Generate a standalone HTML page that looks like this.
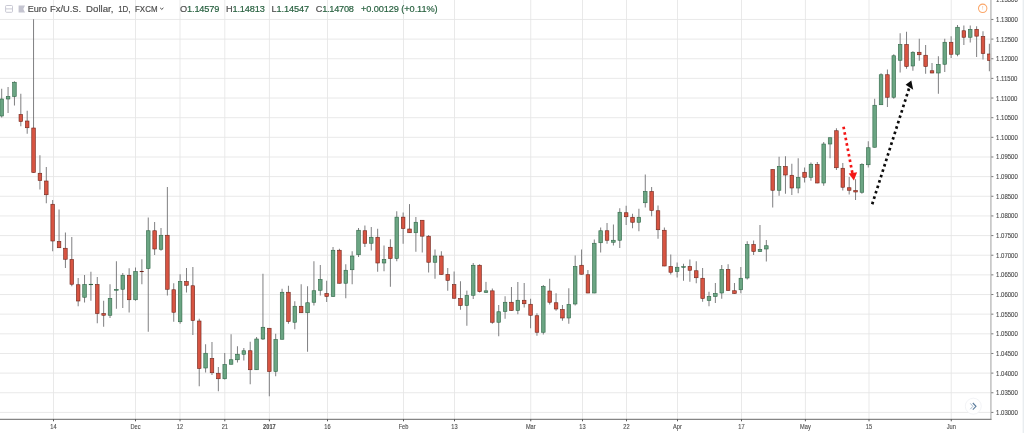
<!DOCTYPE html><html><head><meta charset="utf-8"><title>EURUSD</title><style>
html,body{margin:0;padding:0;background:#fff;}body{width:1024px;height:433px;overflow:hidden;position:relative;font-family:"Liberation Sans",sans-serif;}
svg{position:absolute;left:0;top:0;display:block}
text{font-family:"Liberation Sans",sans-serif;}
.ax{font-size:6.5px;fill:#4c4c4c;stroke:#4c4c4c;stroke-width:0.12px}
.tt{font-size:9.2px;fill:#4d4d4d;stroke:#4d4d4d;stroke-width:0.18px}
.gv{fill:#27603f;stroke:#27603f}
</style></head><body>
<svg width="1024" height="433" viewBox="0 0 1024 433">
<rect width="1024" height="433" fill="#fff"/>
<rect x="1022.6" y="0" width="1.4" height="433" fill="#e9edf0"/>
<g stroke="#e5e5e5" stroke-width="0.85">
<line x1="0" y1="19.45" x2="990.9" y2="19.45"/>
<line x1="0" y1="39.10" x2="990.9" y2="39.10"/>
<line x1="0" y1="58.75" x2="990.9" y2="58.75"/>
<line x1="0" y1="78.39" x2="990.9" y2="78.39"/>
<line x1="0" y1="98.04" x2="990.9" y2="98.04"/>
<line x1="0" y1="117.69" x2="990.9" y2="117.69"/>
<line x1="0" y1="137.34" x2="990.9" y2="137.34"/>
<line x1="0" y1="156.99" x2="990.9" y2="156.99"/>
<line x1="0" y1="176.63" x2="990.9" y2="176.63"/>
<line x1="0" y1="196.28" x2="990.9" y2="196.28"/>
<line x1="0" y1="215.93" x2="990.9" y2="215.93"/>
<line x1="0" y1="235.58" x2="990.9" y2="235.58"/>
<line x1="0" y1="255.23" x2="990.9" y2="255.23"/>
<line x1="0" y1="274.87" x2="990.9" y2="274.87"/>
<line x1="0" y1="294.52" x2="990.9" y2="294.52"/>
<line x1="0" y1="314.17" x2="990.9" y2="314.17"/>
<line x1="0" y1="333.82" x2="990.9" y2="333.82"/>
<line x1="0" y1="353.47" x2="990.9" y2="353.47"/>
<line x1="0" y1="373.11" x2="990.9" y2="373.11"/>
<line x1="0" y1="392.76" x2="990.9" y2="392.76"/>
<line x1="0" y1="412.41" x2="990.9" y2="412.41"/>
<line x1="53.5" y1="0" x2="53.5" y2="419.3"/>
<line x1="135.5" y1="0" x2="135.5" y2="419.3"/>
<line x1="180" y1="0" x2="180" y2="419.3"/>
<line x1="224.8" y1="0" x2="224.8" y2="419.3"/>
<line x1="269.4" y1="0" x2="269.4" y2="419.3"/>
<line x1="327.5" y1="0" x2="327.5" y2="419.3"/>
<line x1="403.5" y1="0" x2="403.5" y2="419.3"/>
<line x1="454.5" y1="0" x2="454.5" y2="419.3"/>
<line x1="530.75" y1="0" x2="530.75" y2="419.3"/>
<line x1="582.5" y1="0" x2="582.5" y2="419.3"/>
<line x1="626.5" y1="0" x2="626.5" y2="419.3"/>
<line x1="677.5" y1="0" x2="677.5" y2="419.3"/>
<line x1="741.5" y1="0" x2="741.5" y2="419.3"/>
<line x1="805.4" y1="0" x2="805.4" y2="419.3"/>
<line x1="869" y1="0" x2="869" y2="419.3"/>
<line x1="951.25" y1="0" x2="951.25" y2="419.3"/>
</g>
<clipPath id="cp"><rect x="0" y="0" width="990.6" height="419.3"/></clipPath>
<g clip-path="url(#cp)">
<line x1="1.70" y1="88.75" x2="1.70" y2="117.5" stroke="#707073" stroke-width="0.9"/>
<line x1="8.07" y1="87.0" x2="8.07" y2="113.0" stroke="#707073" stroke-width="0.9"/>
<line x1="14.44" y1="81.25" x2="14.44" y2="105.5" stroke="#707073" stroke-width="0.9"/>
<line x1="20.82" y1="93.75" x2="20.82" y2="126.25" stroke="#707073" stroke-width="0.9"/>
<line x1="27.19" y1="110.75" x2="27.19" y2="133.75" stroke="#707073" stroke-width="0.9"/>
<line x1="33.56" y1="19.25" x2="33.56" y2="172.75" stroke="#707073" stroke-width="0.9"/>
<line x1="39.93" y1="155.25" x2="39.93" y2="189.5" stroke="#707073" stroke-width="0.9"/>
<line x1="46.30" y1="167.0" x2="46.30" y2="203.25" stroke="#707073" stroke-width="0.9"/>
<line x1="52.68" y1="200.0" x2="52.68" y2="251.25" stroke="#707073" stroke-width="0.9"/>
<line x1="59.05" y1="209.5" x2="59.05" y2="248.0" stroke="#707073" stroke-width="0.9"/>
<line x1="65.42" y1="232.5" x2="65.42" y2="268.0" stroke="#707073" stroke-width="0.9"/>
<line x1="71.79" y1="237.0" x2="71.79" y2="286.25" stroke="#707073" stroke-width="0.9"/>
<line x1="78.16" y1="278.0" x2="78.16" y2="306.25" stroke="#707073" stroke-width="0.9"/>
<line x1="84.54" y1="275.0" x2="84.54" y2="302.5" stroke="#707073" stroke-width="0.9"/>
<line x1="90.91" y1="271.75" x2="90.91" y2="300.75" stroke="#707073" stroke-width="0.9"/>
<line x1="97.28" y1="277.0" x2="97.28" y2="323.25" stroke="#707073" stroke-width="0.9"/>
<line x1="103.65" y1="300.75" x2="103.65" y2="326.75" stroke="#707073" stroke-width="0.9"/>
<line x1="110.02" y1="284.25" x2="110.02" y2="318.0" stroke="#707073" stroke-width="0.9"/>
<line x1="116.40" y1="261.25" x2="116.40" y2="308.75" stroke="#707073" stroke-width="0.9"/>
<line x1="122.77" y1="273.0" x2="122.77" y2="308.0" stroke="#707073" stroke-width="0.9"/>
<line x1="129.14" y1="268.25" x2="129.14" y2="312.5" stroke="#707073" stroke-width="0.9"/>
<line x1="135.51" y1="267.5" x2="135.51" y2="300.75" stroke="#707073" stroke-width="0.9"/>
<line x1="141.88" y1="259.25" x2="141.88" y2="284.25" stroke="#707073" stroke-width="0.9"/>
<line x1="148.26" y1="217.5" x2="148.26" y2="331.75" stroke="#707073" stroke-width="0.9"/>
<line x1="154.63" y1="222.0" x2="154.63" y2="255.0" stroke="#707073" stroke-width="0.9"/>
<line x1="161.00" y1="228.0" x2="161.00" y2="250.75" stroke="#707073" stroke-width="0.9"/>
<line x1="167.37" y1="187.0" x2="167.37" y2="295.5" stroke="#707073" stroke-width="0.9"/>
<line x1="173.74" y1="283.25" x2="173.74" y2="321.75" stroke="#707073" stroke-width="0.9"/>
<line x1="180.12" y1="274.25" x2="180.12" y2="323.75" stroke="#707073" stroke-width="0.9"/>
<line x1="186.49" y1="268.0" x2="186.49" y2="292.5" stroke="#707073" stroke-width="0.9"/>
<line x1="192.86" y1="267.0" x2="192.86" y2="335.0" stroke="#707073" stroke-width="0.9"/>
<line x1="199.23" y1="318.75" x2="199.23" y2="386.25" stroke="#707073" stroke-width="0.9"/>
<line x1="205.60" y1="344.25" x2="205.60" y2="372.5" stroke="#707073" stroke-width="0.9"/>
<line x1="211.98" y1="342.0" x2="211.98" y2="375.0" stroke="#707073" stroke-width="0.9"/>
<line x1="218.35" y1="367.0" x2="218.35" y2="391.25" stroke="#707073" stroke-width="0.9"/>
<line x1="224.72" y1="353.0" x2="224.72" y2="379.5" stroke="#707073" stroke-width="0.9"/>
<line x1="231.09" y1="334.25" x2="231.09" y2="364.5" stroke="#707073" stroke-width="0.9"/>
<line x1="237.46" y1="346.25" x2="237.46" y2="362.5" stroke="#707073" stroke-width="0.9"/>
<line x1="243.84" y1="348.0" x2="243.84" y2="360.5" stroke="#707073" stroke-width="0.9"/>
<line x1="250.21" y1="341.75" x2="250.21" y2="384.25" stroke="#707073" stroke-width="0.9"/>
<line x1="256.58" y1="337.0" x2="256.58" y2="370.0" stroke="#707073" stroke-width="0.9"/>
<line x1="262.95" y1="273.75" x2="262.95" y2="340.0" stroke="#707073" stroke-width="0.9"/>
<line x1="269.32" y1="328.0" x2="269.32" y2="396.25" stroke="#707073" stroke-width="0.9"/>
<line x1="275.70" y1="333.75" x2="275.70" y2="376.25" stroke="#707073" stroke-width="0.9"/>
<line x1="282.07" y1="288.75" x2="282.07" y2="339.5" stroke="#707073" stroke-width="0.9"/>
<line x1="288.44" y1="285.75" x2="288.44" y2="323.75" stroke="#707073" stroke-width="0.9"/>
<line x1="294.81" y1="301.25" x2="294.81" y2="329.25" stroke="#707073" stroke-width="0.9"/>
<line x1="301.18" y1="284.25" x2="301.18" y2="313.0" stroke="#707073" stroke-width="0.9"/>
<line x1="307.56" y1="286.25" x2="307.56" y2="351.75" stroke="#707073" stroke-width="0.9"/>
<line x1="313.93" y1="261.25" x2="313.93" y2="305.5" stroke="#707073" stroke-width="0.9"/>
<line x1="320.30" y1="265.0" x2="320.30" y2="295.5" stroke="#707073" stroke-width="0.9"/>
<line x1="326.67" y1="280.75" x2="326.67" y2="302.0" stroke="#707073" stroke-width="0.9"/>
<line x1="333.04" y1="247.0" x2="333.04" y2="296.75" stroke="#707073" stroke-width="0.9"/>
<line x1="339.42" y1="248.75" x2="339.42" y2="283.5" stroke="#707073" stroke-width="0.9"/>
<line x1="345.79" y1="264.25" x2="345.79" y2="298.25" stroke="#707073" stroke-width="0.9"/>
<line x1="352.16" y1="251.25" x2="352.16" y2="284.25" stroke="#707073" stroke-width="0.9"/>
<line x1="358.53" y1="228.0" x2="358.53" y2="257.0" stroke="#707073" stroke-width="0.9"/>
<line x1="364.90" y1="225.5" x2="364.90" y2="247.0" stroke="#707073" stroke-width="0.9"/>
<line x1="371.28" y1="227.0" x2="371.28" y2="250.5" stroke="#707073" stroke-width="0.9"/>
<line x1="377.65" y1="228.75" x2="377.65" y2="271.75" stroke="#707073" stroke-width="0.9"/>
<line x1="384.02" y1="245.5" x2="384.02" y2="271.25" stroke="#707073" stroke-width="0.9"/>
<line x1="390.39" y1="239.25" x2="390.39" y2="286.75" stroke="#707073" stroke-width="0.9"/>
<line x1="396.76" y1="211.25" x2="396.76" y2="261.25" stroke="#707073" stroke-width="0.9"/>
<line x1="403.14" y1="212.5" x2="403.14" y2="243.75" stroke="#707073" stroke-width="0.9"/>
<line x1="409.51" y1="204.1" x2="409.51" y2="233.0" stroke="#707073" stroke-width="0.9"/>
<line x1="415.88" y1="217.0" x2="415.88" y2="251.75" stroke="#707073" stroke-width="0.9"/>
<line x1="422.25" y1="220.0" x2="422.25" y2="252.5" stroke="#707073" stroke-width="0.9"/>
<line x1="428.62" y1="235.0" x2="428.62" y2="272.5" stroke="#707073" stroke-width="0.9"/>
<line x1="435.00" y1="249.5" x2="435.00" y2="278.75" stroke="#707073" stroke-width="0.9"/>
<line x1="441.37" y1="251.25" x2="441.37" y2="274.75" stroke="#707073" stroke-width="0.9"/>
<line x1="447.74" y1="268.0" x2="447.74" y2="290.75" stroke="#707073" stroke-width="0.9"/>
<line x1="454.11" y1="271.5" x2="454.11" y2="298.5" stroke="#707073" stroke-width="0.9"/>
<line x1="460.48" y1="281.25" x2="460.48" y2="309.75" stroke="#707073" stroke-width="0.9"/>
<line x1="466.86" y1="290.6" x2="466.86" y2="325.75" stroke="#707073" stroke-width="0.9"/>
<line x1="473.23" y1="263.0" x2="473.23" y2="299.0" stroke="#707073" stroke-width="0.9"/>
<line x1="479.60" y1="264.25" x2="479.60" y2="292.5" stroke="#707073" stroke-width="0.9"/>
<line x1="485.97" y1="281.9" x2="485.97" y2="293.0" stroke="#707073" stroke-width="0.9"/>
<line x1="492.34" y1="288.5" x2="492.34" y2="323.75" stroke="#707073" stroke-width="0.9"/>
<line x1="498.72" y1="305.0" x2="498.72" y2="336.25" stroke="#707073" stroke-width="0.9"/>
<line x1="505.09" y1="296.25" x2="505.09" y2="318.75" stroke="#707073" stroke-width="0.9"/>
<line x1="511.46" y1="287.0" x2="511.46" y2="310.75" stroke="#707073" stroke-width="0.9"/>
<line x1="517.83" y1="282.0" x2="517.83" y2="314.25" stroke="#707073" stroke-width="0.9"/>
<line x1="524.20" y1="283.0" x2="524.20" y2="307.5" stroke="#707073" stroke-width="0.9"/>
<line x1="530.58" y1="298.75" x2="530.58" y2="328.25" stroke="#707073" stroke-width="0.9"/>
<line x1="536.95" y1="313.25" x2="536.95" y2="335.75" stroke="#707073" stroke-width="0.9"/>
<line x1="543.32" y1="285.0" x2="543.32" y2="334.5" stroke="#707073" stroke-width="0.9"/>
<line x1="549.69" y1="278.75" x2="549.69" y2="304.5" stroke="#707073" stroke-width="0.9"/>
<line x1="556.06" y1="293.25" x2="556.06" y2="310.75" stroke="#707073" stroke-width="0.9"/>
<line x1="562.44" y1="305.0" x2="562.44" y2="320.75" stroke="#707073" stroke-width="0.9"/>
<line x1="568.81" y1="288.25" x2="568.81" y2="323.75" stroke="#707073" stroke-width="0.9"/>
<line x1="575.18" y1="255.5" x2="575.18" y2="305.5" stroke="#707073" stroke-width="0.9"/>
<line x1="581.55" y1="249.5" x2="581.55" y2="274.5" stroke="#707073" stroke-width="0.9"/>
<line x1="587.92" y1="270.0" x2="587.92" y2="293.25" stroke="#707073" stroke-width="0.9"/>
<line x1="594.30" y1="239.5" x2="594.30" y2="293.25" stroke="#707073" stroke-width="0.9"/>
<line x1="600.67" y1="227.5" x2="600.67" y2="252.5" stroke="#707073" stroke-width="0.9"/>
<line x1="607.04" y1="223.0" x2="607.04" y2="243.75" stroke="#707073" stroke-width="0.9"/>
<line x1="613.41" y1="224.5" x2="613.41" y2="245.5" stroke="#707073" stroke-width="0.9"/>
<line x1="619.78" y1="208.25" x2="619.78" y2="248.0" stroke="#707073" stroke-width="0.9"/>
<line x1="626.16" y1="205.75" x2="626.16" y2="225.0" stroke="#707073" stroke-width="0.9"/>
<line x1="632.53" y1="213.75" x2="632.53" y2="228.25" stroke="#707073" stroke-width="0.9"/>
<line x1="638.90" y1="208.75" x2="638.90" y2="231.25" stroke="#707073" stroke-width="0.9"/>
<line x1="645.27" y1="174.5" x2="645.27" y2="207.5" stroke="#707073" stroke-width="0.9"/>
<line x1="651.64" y1="187.0" x2="651.64" y2="216.25" stroke="#707073" stroke-width="0.9"/>
<line x1="658.02" y1="205.5" x2="658.02" y2="238.75" stroke="#707073" stroke-width="0.9"/>
<line x1="664.39" y1="227.5" x2="664.39" y2="266.25" stroke="#707073" stroke-width="0.9"/>
<line x1="670.76" y1="254.5" x2="670.76" y2="274.5" stroke="#707073" stroke-width="0.9"/>
<line x1="677.13" y1="262.5" x2="677.13" y2="277.5" stroke="#707073" stroke-width="0.9"/>
<line x1="683.50" y1="263.75" x2="683.50" y2="280.75" stroke="#707073" stroke-width="0.9"/>
<line x1="689.88" y1="259.5" x2="689.88" y2="281.75" stroke="#707073" stroke-width="0.9"/>
<line x1="696.25" y1="261.25" x2="696.25" y2="283.25" stroke="#707073" stroke-width="0.9"/>
<line x1="702.62" y1="268.0" x2="702.62" y2="301.75" stroke="#707073" stroke-width="0.9"/>
<line x1="708.99" y1="291.75" x2="708.99" y2="306.25" stroke="#707073" stroke-width="0.9"/>
<line x1="715.36" y1="283.0" x2="715.36" y2="303.0" stroke="#707073" stroke-width="0.9"/>
<line x1="721.74" y1="265.0" x2="721.74" y2="298.75" stroke="#707073" stroke-width="0.9"/>
<line x1="728.11" y1="264.25" x2="728.11" y2="290.75" stroke="#707073" stroke-width="0.9"/>
<line x1="734.48" y1="283.0" x2="734.48" y2="293.75" stroke="#707073" stroke-width="0.9"/>
<line x1="740.85" y1="267.0" x2="740.85" y2="293.25" stroke="#707073" stroke-width="0.9"/>
<line x1="747.22" y1="241.25" x2="747.22" y2="279.5" stroke="#707073" stroke-width="0.9"/>
<line x1="753.60" y1="240.5" x2="753.60" y2="255.0" stroke="#707073" stroke-width="0.9"/>
<line x1="759.97" y1="225.0" x2="759.97" y2="251.8" stroke="#707073" stroke-width="0.9"/>
<line x1="766.34" y1="240.0" x2="766.34" y2="261.5" stroke="#707073" stroke-width="0.9"/>
<line x1="772.71" y1="169.25" x2="772.71" y2="207.5" stroke="#707073" stroke-width="0.9"/>
<line x1="779.08" y1="156.75" x2="779.08" y2="195.75" stroke="#707073" stroke-width="0.9"/>
<line x1="785.46" y1="156.25" x2="785.46" y2="193.75" stroke="#707073" stroke-width="0.9"/>
<line x1="791.83" y1="163.75" x2="791.83" y2="195.0" stroke="#707073" stroke-width="0.9"/>
<line x1="798.20" y1="158.25" x2="798.20" y2="193.25" stroke="#707073" stroke-width="0.9"/>
<line x1="804.57" y1="167.5" x2="804.57" y2="182.5" stroke="#707073" stroke-width="0.9"/>
<line x1="810.94" y1="162.5" x2="810.94" y2="180.75" stroke="#707073" stroke-width="0.9"/>
<line x1="817.32" y1="162.0" x2="817.32" y2="183.25" stroke="#707073" stroke-width="0.9"/>
<line x1="823.69" y1="142.0" x2="823.69" y2="185.75" stroke="#707073" stroke-width="0.9"/>
<line x1="830.06" y1="137.5" x2="830.06" y2="158.25" stroke="#707073" stroke-width="0.9"/>
<line x1="836.43" y1="128.25" x2="836.43" y2="170.0" stroke="#707073" stroke-width="0.9"/>
<line x1="842.80" y1="163.0" x2="842.80" y2="190.5" stroke="#707073" stroke-width="0.9"/>
<line x1="849.18" y1="177.0" x2="849.18" y2="194.5" stroke="#707073" stroke-width="0.9"/>
<line x1="855.55" y1="179.25" x2="855.55" y2="200.0" stroke="#707073" stroke-width="0.9"/>
<line x1="861.92" y1="163.25" x2="861.92" y2="193.75" stroke="#707073" stroke-width="0.9"/>
<line x1="868.29" y1="141.25" x2="868.29" y2="167.5" stroke="#707073" stroke-width="0.9"/>
<line x1="874.66" y1="98.75" x2="874.66" y2="147.5" stroke="#707073" stroke-width="0.9"/>
<line x1="881.04" y1="73.25" x2="881.04" y2="105.0" stroke="#707073" stroke-width="0.9"/>
<line x1="887.41" y1="69.5" x2="887.41" y2="107.0" stroke="#707073" stroke-width="0.9"/>
<line x1="893.78" y1="54.25" x2="893.78" y2="98.75" stroke="#707073" stroke-width="0.9"/>
<line x1="900.15" y1="33.25" x2="900.15" y2="72.5" stroke="#707073" stroke-width="0.9"/>
<line x1="906.52" y1="31.75" x2="906.52" y2="68.75" stroke="#707073" stroke-width="0.9"/>
<line x1="912.90" y1="51.25" x2="912.90" y2="70.75" stroke="#707073" stroke-width="0.9"/>
<line x1="919.27" y1="38.75" x2="919.27" y2="60.75" stroke="#707073" stroke-width="0.9"/>
<line x1="925.64" y1="45.0" x2="925.64" y2="73.75" stroke="#707073" stroke-width="0.9"/>
<line x1="932.01" y1="63.0" x2="932.01" y2="73.25" stroke="#707073" stroke-width="0.9"/>
<line x1="938.38" y1="56.25" x2="938.38" y2="93.75" stroke="#707073" stroke-width="0.9"/>
<line x1="944.76" y1="38.75" x2="944.76" y2="72.0" stroke="#707073" stroke-width="0.9"/>
<line x1="951.13" y1="36.25" x2="951.13" y2="58.0" stroke="#707073" stroke-width="0.9"/>
<line x1="957.50" y1="25.0" x2="957.50" y2="56.25" stroke="#707073" stroke-width="0.9"/>
<line x1="963.87" y1="25.5" x2="963.87" y2="45.0" stroke="#707073" stroke-width="0.9"/>
<line x1="970.24" y1="25.5" x2="970.24" y2="42.5" stroke="#707073" stroke-width="0.9"/>
<line x1="976.62" y1="26.25" x2="976.62" y2="57.0" stroke="#707073" stroke-width="0.9"/>
<line x1="982.99" y1="31.25" x2="982.99" y2="59.5" stroke="#707073" stroke-width="0.9"/>
<line x1="989.36" y1="43.75" x2="989.36" y2="71.25" stroke="#707073" stroke-width="0.9"/>
<rect x="-0.10" y="99.0" width="3.6" height="17.00" fill="#6ba583" stroke="#2f6646" stroke-width="0.6"/>
<rect x="6.27" y="96.5" width="3.6" height="2.50" fill="#6ba583" stroke="#2f6646" stroke-width="0.6"/>
<rect x="12.64" y="82.25" width="3.6" height="14.25" fill="#6ba583" stroke="#2f6646" stroke-width="0.6"/>
<rect x="19.02" y="114.5" width="3.6" height="7.00" fill="#d75442" stroke="#6e241a" stroke-width="0.6"/>
<rect x="25.39" y="121.0" width="3.6" height="6.75" fill="#d75442" stroke="#6e241a" stroke-width="0.6"/>
<rect x="31.76" y="128.0" width="3.6" height="44.50" fill="#d75442" stroke="#6e241a" stroke-width="0.6"/>
<rect x="38.13" y="173.25" width="3.6" height="7.25" fill="#d75442" stroke="#6e241a" stroke-width="0.6"/>
<rect x="44.50" y="181.0" width="3.6" height="13.75" fill="#d75442" stroke="#6e241a" stroke-width="0.6"/>
<rect x="50.88" y="204.25" width="3.6" height="36.75" fill="#d75442" stroke="#6e241a" stroke-width="0.6"/>
<rect x="57.25" y="241.5" width="3.6" height="6.25" fill="#d75442" stroke="#6e241a" stroke-width="0.6"/>
<rect x="63.62" y="248.25" width="3.6" height="11.00" fill="#d75442" stroke="#6e241a" stroke-width="0.6"/>
<rect x="69.99" y="259.5" width="3.6" height="24.75" fill="#d75442" stroke="#6e241a" stroke-width="0.6"/>
<rect x="76.36" y="284.75" width="3.6" height="16.25" fill="#d75442" stroke="#6e241a" stroke-width="0.6"/>
<rect x="82.74" y="284.5" width="3.6" height="12.75" fill="#6ba583" stroke="#2f6646" stroke-width="0.6"/>
<rect x="89.11" y="284.25" width="3.6" height="0.50" fill="#6ba583" stroke="#2f6646" stroke-width="0.6"/>
<rect x="95.48" y="284.5" width="3.6" height="29.00" fill="#d75442" stroke="#6e241a" stroke-width="0.6"/>
<rect x="101.85" y="313.5" width="3.6" height="1.75" fill="#d75442" stroke="#6e241a" stroke-width="0.6"/>
<rect x="108.22" y="298.5" width="3.6" height="16.75" fill="#6ba583" stroke="#2f6646" stroke-width="0.6"/>
<rect x="114.60" y="289.5" width="3.6" height="0.75" fill="#6ba583" stroke="#2f6646" stroke-width="0.6"/>
<rect x="120.97" y="275.25" width="3.6" height="14.00" fill="#6ba583" stroke="#2f6646" stroke-width="0.6"/>
<rect x="127.34" y="275.25" width="3.6" height="24.50" fill="#d75442" stroke="#6e241a" stroke-width="0.6"/>
<rect x="133.71" y="271.5" width="3.6" height="28.25" fill="#6ba583" stroke="#2f6646" stroke-width="0.6"/>
<rect x="140.08" y="271.25" width="3.6" height="0.50" fill="#d75442" stroke="#6e241a" stroke-width="0.6"/>
<rect x="146.46" y="230.75" width="3.6" height="37.75" fill="#6ba583" stroke="#2f6646" stroke-width="0.6"/>
<rect x="152.83" y="230.75" width="3.6" height="18.25" fill="#d75442" stroke="#6e241a" stroke-width="0.6"/>
<rect x="159.20" y="235.25" width="3.6" height="14.00" fill="#6ba583" stroke="#2f6646" stroke-width="0.6"/>
<rect x="165.57" y="235.25" width="3.6" height="54.00" fill="#d75442" stroke="#6e241a" stroke-width="0.6"/>
<rect x="171.94" y="289.75" width="3.6" height="22.50" fill="#d75442" stroke="#6e241a" stroke-width="0.6"/>
<rect x="178.32" y="281.5" width="3.6" height="40.25" fill="#6ba583" stroke="#2f6646" stroke-width="0.6"/>
<rect x="184.69" y="281.5" width="3.6" height="3.75" fill="#d75442" stroke="#6e241a" stroke-width="0.6"/>
<rect x="191.06" y="285.75" width="3.6" height="34.75" fill="#d75442" stroke="#6e241a" stroke-width="0.6"/>
<rect x="197.43" y="321.0" width="3.6" height="47.50" fill="#d75442" stroke="#6e241a" stroke-width="0.6"/>
<rect x="203.80" y="353.25" width="3.6" height="14.75" fill="#6ba583" stroke="#2f6646" stroke-width="0.6"/>
<rect x="210.18" y="358.5" width="3.6" height="14.25" fill="#d75442" stroke="#6e241a" stroke-width="0.6"/>
<rect x="216.55" y="373.25" width="3.6" height="5.50" fill="#d75442" stroke="#6e241a" stroke-width="0.6"/>
<rect x="222.92" y="364.5" width="3.6" height="14.25" fill="#6ba583" stroke="#2f6646" stroke-width="0.6"/>
<rect x="229.29" y="359.75" width="3.6" height="4.50" fill="#6ba583" stroke="#2f6646" stroke-width="0.6"/>
<rect x="235.66" y="354.25" width="3.6" height="5.50" fill="#6ba583" stroke="#2f6646" stroke-width="0.6"/>
<rect x="242.04" y="350.75" width="3.6" height="3.50" fill="#6ba583" stroke="#2f6646" stroke-width="0.6"/>
<rect x="248.41" y="350.75" width="3.6" height="19.00" fill="#d75442" stroke="#6e241a" stroke-width="0.6"/>
<rect x="254.78" y="339.0" width="3.6" height="30.75" fill="#6ba583" stroke="#2f6646" stroke-width="0.6"/>
<rect x="261.15" y="327.25" width="3.6" height="11.75" fill="#6ba583" stroke="#2f6646" stroke-width="0.6"/>
<rect x="267.52" y="328.25" width="3.6" height="43.25" fill="#d75442" stroke="#6e241a" stroke-width="0.6"/>
<rect x="273.90" y="339.5" width="3.6" height="32.00" fill="#6ba583" stroke="#2f6646" stroke-width="0.6"/>
<rect x="280.27" y="292.25" width="3.6" height="47.00" fill="#6ba583" stroke="#2f6646" stroke-width="0.6"/>
<rect x="286.64" y="292.25" width="3.6" height="29.25" fill="#d75442" stroke="#6e241a" stroke-width="0.6"/>
<rect x="293.01" y="306.25" width="3.6" height="16.00" fill="#6ba583" stroke="#2f6646" stroke-width="0.6"/>
<rect x="299.38" y="306.25" width="3.6" height="6.50" fill="#d75442" stroke="#6e241a" stroke-width="0.6"/>
<rect x="305.76" y="302.75" width="3.6" height="10.00" fill="#6ba583" stroke="#2f6646" stroke-width="0.6"/>
<rect x="312.13" y="290.75" width="3.6" height="11.50" fill="#6ba583" stroke="#2f6646" stroke-width="0.6"/>
<rect x="318.50" y="279.5" width="3.6" height="10.75" fill="#6ba583" stroke="#2f6646" stroke-width="0.6"/>
<rect x="324.87" y="293.5" width="3.6" height="3.00" fill="#d75442" stroke="#6e241a" stroke-width="0.6"/>
<rect x="331.24" y="250.25" width="3.6" height="46.25" fill="#6ba583" stroke="#2f6646" stroke-width="0.6"/>
<rect x="337.62" y="250.25" width="3.6" height="33.00" fill="#d75442" stroke="#6e241a" stroke-width="0.6"/>
<rect x="343.99" y="270.25" width="3.6" height="13.00" fill="#6ba583" stroke="#2f6646" stroke-width="0.6"/>
<rect x="350.36" y="256.0" width="3.6" height="13.75" fill="#6ba583" stroke="#2f6646" stroke-width="0.6"/>
<rect x="356.73" y="230.25" width="3.6" height="24.50" fill="#6ba583" stroke="#2f6646" stroke-width="0.6"/>
<rect x="363.10" y="230.75" width="3.6" height="12.50" fill="#d75442" stroke="#6e241a" stroke-width="0.6"/>
<rect x="369.48" y="237.25" width="3.6" height="6.00" fill="#6ba583" stroke="#2f6646" stroke-width="0.6"/>
<rect x="375.85" y="237.25" width="3.6" height="25.75" fill="#d75442" stroke="#6e241a" stroke-width="0.6"/>
<rect x="382.22" y="259.5" width="3.6" height="3.50" fill="#6ba583" stroke="#2f6646" stroke-width="0.6"/>
<rect x="388.59" y="247.25" width="3.6" height="11.25" fill="#d75442" stroke="#6e241a" stroke-width="0.6"/>
<rect x="394.96" y="217.15" width="3.6" height="41.35" fill="#6ba583" stroke="#2f6646" stroke-width="0.6"/>
<rect x="401.34" y="217.15" width="3.6" height="11.35" fill="#d75442" stroke="#6e241a" stroke-width="0.6"/>
<rect x="407.71" y="229.0" width="3.6" height="3.75" fill="#d75442" stroke="#6e241a" stroke-width="0.6"/>
<rect x="414.08" y="222.25" width="3.6" height="10.50" fill="#6ba583" stroke="#2f6646" stroke-width="0.6"/>
<rect x="420.45" y="220.25" width="3.6" height="15.90" fill="#d75442" stroke="#6e241a" stroke-width="0.6"/>
<rect x="426.82" y="236.25" width="3.6" height="26.00" fill="#d75442" stroke="#6e241a" stroke-width="0.6"/>
<rect x="433.20" y="256.0" width="3.6" height="6.25" fill="#6ba583" stroke="#2f6646" stroke-width="0.6"/>
<rect x="439.57" y="256.0" width="3.6" height="18.50" fill="#d75442" stroke="#6e241a" stroke-width="0.6"/>
<rect x="445.94" y="274.5" width="3.6" height="5.85" fill="#d75442" stroke="#6e241a" stroke-width="0.6"/>
<rect x="452.31" y="284.65" width="3.6" height="13.60" fill="#d75442" stroke="#6e241a" stroke-width="0.6"/>
<rect x="458.68" y="298.5" width="3.6" height="7.00" fill="#d75442" stroke="#6e241a" stroke-width="0.6"/>
<rect x="465.06" y="295.5" width="3.6" height="10.00" fill="#6ba583" stroke="#2f6646" stroke-width="0.6"/>
<rect x="471.43" y="265.25" width="3.6" height="30.00" fill="#6ba583" stroke="#2f6646" stroke-width="0.6"/>
<rect x="477.80" y="265.25" width="3.6" height="26.40" fill="#d75442" stroke="#6e241a" stroke-width="0.6"/>
<rect x="484.17" y="290.85" width="3.6" height="1.50" fill="#6ba583" stroke="#2f6646" stroke-width="0.6"/>
<rect x="490.54" y="290.85" width="3.6" height="31.40" fill="#d75442" stroke="#6e241a" stroke-width="0.6"/>
<rect x="496.92" y="311.75" width="3.6" height="10.50" fill="#6ba583" stroke="#2f6646" stroke-width="0.6"/>
<rect x="503.29" y="302.25" width="3.6" height="9.25" fill="#6ba583" stroke="#2f6646" stroke-width="0.6"/>
<rect x="509.66" y="302.25" width="3.6" height="8.25" fill="#d75442" stroke="#6e241a" stroke-width="0.6"/>
<rect x="516.03" y="300.25" width="3.6" height="10.25" fill="#6ba583" stroke="#2f6646" stroke-width="0.6"/>
<rect x="522.40" y="300.25" width="3.6" height="3.50" fill="#d75442" stroke="#6e241a" stroke-width="0.6"/>
<rect x="528.78" y="304.25" width="3.6" height="11.00" fill="#d75442" stroke="#6e241a" stroke-width="0.6"/>
<rect x="535.15" y="315.75" width="3.6" height="16.50" fill="#d75442" stroke="#6e241a" stroke-width="0.6"/>
<rect x="541.52" y="286.5" width="3.6" height="45.75" fill="#6ba583" stroke="#2f6646" stroke-width="0.6"/>
<rect x="547.89" y="291.0" width="3.6" height="11.25" fill="#d75442" stroke="#6e241a" stroke-width="0.6"/>
<rect x="554.26" y="302.75" width="3.6" height="6.25" fill="#d75442" stroke="#6e241a" stroke-width="0.6"/>
<rect x="560.64" y="309.5" width="3.6" height="8.50" fill="#d75442" stroke="#6e241a" stroke-width="0.6"/>
<rect x="567.01" y="304.5" width="3.6" height="13.50" fill="#6ba583" stroke="#2f6646" stroke-width="0.6"/>
<rect x="573.38" y="266.5" width="3.6" height="37.50" fill="#6ba583" stroke="#2f6646" stroke-width="0.6"/>
<rect x="579.75" y="265.25" width="3.6" height="9.00" fill="#d75442" stroke="#6e241a" stroke-width="0.6"/>
<rect x="586.12" y="274.75" width="3.6" height="18.25" fill="#d75442" stroke="#6e241a" stroke-width="0.6"/>
<rect x="592.50" y="243.25" width="3.6" height="49.75" fill="#6ba583" stroke="#2f6646" stroke-width="0.6"/>
<rect x="598.87" y="230.75" width="3.6" height="12.00" fill="#6ba583" stroke="#2f6646" stroke-width="0.6"/>
<rect x="605.24" y="230.75" width="3.6" height="9.50" fill="#d75442" stroke="#6e241a" stroke-width="0.6"/>
<rect x="611.61" y="240.25" width="3.6" height="2.00" fill="#6ba583" stroke="#2f6646" stroke-width="0.6"/>
<rect x="617.98" y="212.25" width="3.6" height="28.00" fill="#6ba583" stroke="#2f6646" stroke-width="0.6"/>
<rect x="624.36" y="212.75" width="3.6" height="4.00" fill="#d75442" stroke="#6e241a" stroke-width="0.6"/>
<rect x="630.73" y="217.25" width="3.6" height="5.00" fill="#d75442" stroke="#6e241a" stroke-width="0.6"/>
<rect x="637.10" y="217.25" width="3.6" height="5.00" fill="#6ba583" stroke="#2f6646" stroke-width="0.6"/>
<rect x="643.47" y="191.5" width="3.6" height="11.25" fill="#6ba583" stroke="#2f6646" stroke-width="0.6"/>
<rect x="649.84" y="191.5" width="3.6" height="19.00" fill="#d75442" stroke="#6e241a" stroke-width="0.6"/>
<rect x="656.22" y="210.75" width="3.6" height="19.00" fill="#d75442" stroke="#6e241a" stroke-width="0.6"/>
<rect x="662.59" y="230.25" width="3.6" height="35.75" fill="#d75442" stroke="#6e241a" stroke-width="0.6"/>
<rect x="668.96" y="266.5" width="3.6" height="5.75" fill="#d75442" stroke="#6e241a" stroke-width="0.6"/>
<rect x="675.33" y="267.25" width="3.6" height="4.25" fill="#6ba583" stroke="#2f6646" stroke-width="0.6"/>
<rect x="681.70" y="266.65" width="3.6" height="0.70" fill="#6ba583" stroke="#2f6646" stroke-width="0.6"/>
<rect x="688.08" y="266.5" width="3.6" height="3.75" fill="#d75442" stroke="#6e241a" stroke-width="0.6"/>
<rect x="694.45" y="270.75" width="3.6" height="7.00" fill="#d75442" stroke="#6e241a" stroke-width="0.6"/>
<rect x="700.82" y="278.25" width="3.6" height="20.25" fill="#d75442" stroke="#6e241a" stroke-width="0.6"/>
<rect x="707.19" y="296.5" width="3.6" height="4.00" fill="#6ba583" stroke="#2f6646" stroke-width="0.6"/>
<rect x="713.56" y="293.5" width="3.6" height="3.00" fill="#6ba583" stroke="#2f6646" stroke-width="0.6"/>
<rect x="719.94" y="269.5" width="3.6" height="23.50" fill="#6ba583" stroke="#2f6646" stroke-width="0.6"/>
<rect x="726.31" y="269.5" width="3.6" height="21.00" fill="#d75442" stroke="#6e241a" stroke-width="0.6"/>
<rect x="732.68" y="290.75" width="3.6" height="2.75" fill="#d75442" stroke="#6e241a" stroke-width="0.6"/>
<rect x="739.05" y="278.25" width="3.6" height="11.50" fill="#6ba583" stroke="#2f6646" stroke-width="0.6"/>
<rect x="745.42" y="244.5" width="3.6" height="33.50" fill="#6ba583" stroke="#2f6646" stroke-width="0.6"/>
<rect x="751.80" y="244.5" width="3.6" height="6.95" fill="#d75442" stroke="#6e241a" stroke-width="0.6"/>
<rect x="758.17" y="249.35" width="3.6" height="2.20" fill="#6ba583" stroke="#2f6646" stroke-width="0.6"/>
<rect x="764.54" y="245.75" width="3.6" height="3.25" fill="#6ba583" stroke="#2f6646" stroke-width="0.6"/>
<rect x="770.91" y="169.5" width="3.6" height="20.75" fill="#d75442" stroke="#6e241a" stroke-width="0.6"/>
<rect x="777.28" y="166.5" width="3.6" height="23.75" fill="#6ba583" stroke="#2f6646" stroke-width="0.6"/>
<rect x="783.66" y="166.5" width="3.6" height="8.50" fill="#d75442" stroke="#6e241a" stroke-width="0.6"/>
<rect x="790.03" y="175.25" width="3.6" height="12.75" fill="#d75442" stroke="#6e241a" stroke-width="0.6"/>
<rect x="796.40" y="177.5" width="3.6" height="10.50" fill="#6ba583" stroke="#2f6646" stroke-width="0.6"/>
<rect x="802.77" y="172.25" width="3.6" height="5.00" fill="#d75442" stroke="#6e241a" stroke-width="0.6"/>
<rect x="809.14" y="164.25" width="3.6" height="13.00" fill="#6ba583" stroke="#2f6646" stroke-width="0.6"/>
<rect x="815.52" y="164.5" width="3.6" height="18.50" fill="#d75442" stroke="#6e241a" stroke-width="0.6"/>
<rect x="821.89" y="144.0" width="3.6" height="39.00" fill="#6ba583" stroke="#2f6646" stroke-width="0.6"/>
<rect x="828.26" y="137.75" width="3.6" height="6.25" fill="#6ba583" stroke="#2f6646" stroke-width="0.6"/>
<rect x="834.63" y="130.75" width="3.6" height="37.00" fill="#d75442" stroke="#6e241a" stroke-width="0.6"/>
<rect x="841.00" y="168.25" width="3.6" height="19.00" fill="#d75442" stroke="#6e241a" stroke-width="0.6"/>
<rect x="847.38" y="187.75" width="3.6" height="2.50" fill="#d75442" stroke="#6e241a" stroke-width="0.6"/>
<rect x="853.75" y="190.5" width="3.6" height="1.50" fill="#d75442" stroke="#6e241a" stroke-width="0.6"/>
<rect x="860.12" y="164.5" width="3.6" height="27.75" fill="#6ba583" stroke="#2f6646" stroke-width="0.6"/>
<rect x="866.49" y="147.75" width="3.6" height="17.00" fill="#6ba583" stroke="#2f6646" stroke-width="0.6"/>
<rect x="872.86" y="105.25" width="3.6" height="42.00" fill="#6ba583" stroke="#2f6646" stroke-width="0.6"/>
<rect x="879.24" y="74.75" width="3.6" height="30.00" fill="#6ba583" stroke="#2f6646" stroke-width="0.6"/>
<rect x="885.61" y="74.75" width="3.6" height="22.50" fill="#d75442" stroke="#6e241a" stroke-width="0.6"/>
<rect x="891.98" y="55.75" width="3.6" height="41.50" fill="#6ba583" stroke="#2f6646" stroke-width="0.6"/>
<rect x="898.35" y="44.5" width="3.6" height="15.75" fill="#6ba583" stroke="#2f6646" stroke-width="0.6"/>
<rect x="904.72" y="44.5" width="3.6" height="22.00" fill="#d75442" stroke="#6e241a" stroke-width="0.6"/>
<rect x="911.10" y="52.25" width="3.6" height="13.75" fill="#6ba583" stroke="#2f6646" stroke-width="0.6"/>
<rect x="917.47" y="52.25" width="3.6" height="2.50" fill="#d75442" stroke="#6e241a" stroke-width="0.6"/>
<rect x="923.84" y="55.25" width="3.6" height="11.25" fill="#d75442" stroke="#6e241a" stroke-width="0.6"/>
<rect x="930.21" y="70.75" width="3.6" height="2.25" fill="#d75442" stroke="#6e241a" stroke-width="0.6"/>
<rect x="936.58" y="64.5" width="3.6" height="8.50" fill="#6ba583" stroke="#2f6646" stroke-width="0.6"/>
<rect x="942.96" y="42.25" width="3.6" height="22.00" fill="#6ba583" stroke="#2f6646" stroke-width="0.6"/>
<rect x="949.33" y="42.25" width="3.6" height="12.00" fill="#d75442" stroke="#6e241a" stroke-width="0.6"/>
<rect x="955.70" y="27.25" width="3.6" height="27.00" fill="#6ba583" stroke="#2f6646" stroke-width="0.6"/>
<rect x="962.07" y="30.75" width="3.6" height="6.50" fill="#d75442" stroke="#6e241a" stroke-width="0.6"/>
<rect x="968.44" y="29.35" width="3.6" height="7.90" fill="#6ba583" stroke="#2f6646" stroke-width="0.6"/>
<rect x="974.82" y="29.35" width="3.6" height="6.80" fill="#d75442" stroke="#6e241a" stroke-width="0.6"/>
<rect x="981.19" y="36.5" width="3.6" height="17.00" fill="#d75442" stroke="#6e241a" stroke-width="0.6"/>
<rect x="987.56" y="54.0" width="3.6" height="6.50" fill="#d75442" stroke="#6e241a" stroke-width="0.6"/>
</g>
<line x1="843.5" y1="126.8" x2="852.6" y2="174.3" stroke="#f31616" stroke-width="2.7" stroke-dasharray="2.6 2.94"/>
<polygon points="848.7,173.4 857.1,172.3 853.9,180.6" fill="#f31616"/>
<line x1="872.2" y1="204.25" x2="909.2" y2="87.9" stroke="#0c0c0c" stroke-width="2.7" stroke-dasharray="2.6 3.06"/>
<polygon points="905.6,84.8 913.2,89.7 911.3,80.6" fill="#0c0c0c"/>
<line x1="990.9" y1="0" x2="990.9" y2="419.90000000000003" stroke="#c4c4c4" stroke-width="1.6"/>
<line x1="0" y1="419.3" x2="991.4" y2="419.3" stroke="#858585" stroke-width="1.2"/>
<text class="ax" transform="translate(996.1,2.30) scale(0.925,1)">1.13500</text>
<line x1="991.3" y1="19.45" x2="993.4" y2="19.45" stroke="#555" stroke-width="0.8"/>
<text class="ax" transform="translate(996.1,21.95) scale(0.925,1)">1.13000</text>
<line x1="991.3" y1="39.10" x2="993.4" y2="39.10" stroke="#555" stroke-width="0.8"/>
<text class="ax" transform="translate(996.1,41.60) scale(0.925,1)">1.12500</text>
<line x1="991.3" y1="58.75" x2="993.4" y2="58.75" stroke="#555" stroke-width="0.8"/>
<text class="ax" transform="translate(996.1,61.25) scale(0.925,1)">1.12000</text>
<line x1="991.3" y1="78.39" x2="993.4" y2="78.39" stroke="#555" stroke-width="0.8"/>
<text class="ax" transform="translate(996.1,80.89) scale(0.925,1)">1.11500</text>
<line x1="991.3" y1="98.04" x2="993.4" y2="98.04" stroke="#555" stroke-width="0.8"/>
<text class="ax" transform="translate(996.1,100.54) scale(0.925,1)">1.11000</text>
<line x1="991.3" y1="117.69" x2="993.4" y2="117.69" stroke="#555" stroke-width="0.8"/>
<text class="ax" transform="translate(996.1,120.19) scale(0.925,1)">1.10500</text>
<line x1="991.3" y1="137.34" x2="993.4" y2="137.34" stroke="#555" stroke-width="0.8"/>
<text class="ax" transform="translate(996.1,139.84) scale(0.925,1)">1.10000</text>
<line x1="991.3" y1="156.99" x2="993.4" y2="156.99" stroke="#555" stroke-width="0.8"/>
<text class="ax" transform="translate(996.1,159.49) scale(0.925,1)">1.09500</text>
<line x1="991.3" y1="176.63" x2="993.4" y2="176.63" stroke="#555" stroke-width="0.8"/>
<text class="ax" transform="translate(996.1,179.13) scale(0.925,1)">1.09000</text>
<line x1="991.3" y1="196.28" x2="993.4" y2="196.28" stroke="#555" stroke-width="0.8"/>
<text class="ax" transform="translate(996.1,198.78) scale(0.925,1)">1.08500</text>
<line x1="991.3" y1="215.93" x2="993.4" y2="215.93" stroke="#555" stroke-width="0.8"/>
<text class="ax" transform="translate(996.1,218.43) scale(0.925,1)">1.08000</text>
<line x1="991.3" y1="235.58" x2="993.4" y2="235.58" stroke="#555" stroke-width="0.8"/>
<text class="ax" transform="translate(996.1,238.08) scale(0.925,1)">1.07500</text>
<line x1="991.3" y1="255.23" x2="993.4" y2="255.23" stroke="#555" stroke-width="0.8"/>
<text class="ax" transform="translate(996.1,257.73) scale(0.925,1)">1.07000</text>
<line x1="991.3" y1="274.87" x2="993.4" y2="274.87" stroke="#555" stroke-width="0.8"/>
<text class="ax" transform="translate(996.1,277.37) scale(0.925,1)">1.06500</text>
<line x1="991.3" y1="294.52" x2="993.4" y2="294.52" stroke="#555" stroke-width="0.8"/>
<text class="ax" transform="translate(996.1,297.02) scale(0.925,1)">1.06000</text>
<line x1="991.3" y1="314.17" x2="993.4" y2="314.17" stroke="#555" stroke-width="0.8"/>
<text class="ax" transform="translate(996.1,316.67) scale(0.925,1)">1.05500</text>
<line x1="991.3" y1="333.82" x2="993.4" y2="333.82" stroke="#555" stroke-width="0.8"/>
<text class="ax" transform="translate(996.1,336.32) scale(0.925,1)">1.05000</text>
<line x1="991.3" y1="353.47" x2="993.4" y2="353.47" stroke="#555" stroke-width="0.8"/>
<text class="ax" transform="translate(996.1,355.97) scale(0.925,1)">1.04500</text>
<line x1="991.3" y1="373.11" x2="993.4" y2="373.11" stroke="#555" stroke-width="0.8"/>
<text class="ax" transform="translate(996.1,375.61) scale(0.925,1)">1.04000</text>
<line x1="991.3" y1="392.76" x2="993.4" y2="392.76" stroke="#555" stroke-width="0.8"/>
<text class="ax" transform="translate(996.1,395.26) scale(0.925,1)">1.03500</text>
<line x1="991.3" y1="412.41" x2="993.4" y2="412.41" stroke="#555" stroke-width="0.8"/>
<text class="ax" transform="translate(996.1,414.91) scale(0.925,1)">1.03000</text>
<line x1="53.5" y1="419.3" x2="53.5" y2="421.3" stroke="#444" stroke-width="0.9"/>
<text class="ax" transform="translate(53.5,429.2) scale(0.87,1)" text-anchor="middle">14</text>
<line x1="135.5" y1="419.3" x2="135.5" y2="421.3" stroke="#444" stroke-width="0.9"/>
<text class="ax" transform="translate(135.5,429.2) scale(0.87,1)" text-anchor="middle">Dec</text>
<line x1="180" y1="419.3" x2="180" y2="421.3" stroke="#444" stroke-width="0.9"/>
<text class="ax" transform="translate(180,429.2) scale(0.87,1)" text-anchor="middle">12</text>
<line x1="224.8" y1="419.3" x2="224.8" y2="421.3" stroke="#444" stroke-width="0.9"/>
<text class="ax" transform="translate(224.8,429.2) scale(0.87,1)" text-anchor="middle">21</text>
<line x1="269.4" y1="419.3" x2="269.4" y2="421.3" stroke="#444" stroke-width="0.9"/>
<text class="ax" transform="translate(269.4,429.2) scale(0.87,1)" text-anchor="middle" font-weight="bold">2017</text>
<line x1="327.5" y1="419.3" x2="327.5" y2="421.3" stroke="#444" stroke-width="0.9"/>
<text class="ax" transform="translate(327.5,429.2) scale(0.87,1)" text-anchor="middle">16</text>
<line x1="403.5" y1="419.3" x2="403.5" y2="421.3" stroke="#444" stroke-width="0.9"/>
<text class="ax" transform="translate(403.5,429.2) scale(0.87,1)" text-anchor="middle">Feb</text>
<line x1="454.5" y1="419.3" x2="454.5" y2="421.3" stroke="#444" stroke-width="0.9"/>
<text class="ax" transform="translate(454.5,429.2) scale(0.87,1)" text-anchor="middle">13</text>
<line x1="530.75" y1="419.3" x2="530.75" y2="421.3" stroke="#444" stroke-width="0.9"/>
<text class="ax" transform="translate(530.75,429.2) scale(0.87,1)" text-anchor="middle">Mar</text>
<line x1="582.5" y1="419.3" x2="582.5" y2="421.3" stroke="#444" stroke-width="0.9"/>
<text class="ax" transform="translate(582.5,429.2) scale(0.87,1)" text-anchor="middle">13</text>
<line x1="626.5" y1="419.3" x2="626.5" y2="421.3" stroke="#444" stroke-width="0.9"/>
<text class="ax" transform="translate(626.5,429.2) scale(0.87,1)" text-anchor="middle">22</text>
<line x1="677.5" y1="419.3" x2="677.5" y2="421.3" stroke="#444" stroke-width="0.9"/>
<text class="ax" transform="translate(677.5,429.2) scale(0.87,1)" text-anchor="middle">Apr</text>
<line x1="741.5" y1="419.3" x2="741.5" y2="421.3" stroke="#444" stroke-width="0.9"/>
<text class="ax" transform="translate(741.5,429.2) scale(0.87,1)" text-anchor="middle">17</text>
<line x1="805.4" y1="419.3" x2="805.4" y2="421.3" stroke="#444" stroke-width="0.9"/>
<text class="ax" transform="translate(805.4,429.2) scale(0.87,1)" text-anchor="middle">May</text>
<line x1="869" y1="419.3" x2="869" y2="421.3" stroke="#444" stroke-width="0.9"/>
<text class="ax" transform="translate(869,429.2) scale(0.87,1)" text-anchor="middle">15</text>
<line x1="951.25" y1="419.3" x2="951.25" y2="421.3" stroke="#444" stroke-width="0.9"/>
<text class="ax" transform="translate(951.25,429.2) scale(0.87,1)" text-anchor="middle">Jun</text>
<rect x="5.6" y="5.5" width="6.9" height="6.8" rx="0.9" fill="none" stroke="#c3c3cf" stroke-width="0.9"/>
<line x1="5.8" y1="8.9" x2="12.2" y2="8.9" stroke="#c3c3cf" stroke-width="0.9"/>
<polygon points="18.6,5.4 25,5.4 23.3,8.9 25,12.4 18.6,12.4" fill="#c4c4d0"/>
<text class="tt" y="12" lengthAdjust="spacingAndGlyphs"><tspan x="27.7" textLength="19.2" lengthAdjust="spacingAndGlyphs">Euro</tspan> <tspan x="50" textLength="31.2" lengthAdjust="spacingAndGlyphs">Fx/U.S.</tspan> <tspan x="86.1" textLength="27.3" lengthAdjust="spacingAndGlyphs">Dollar,</tspan> <tspan x="118.2" textLength="12.4" lengthAdjust="spacingAndGlyphs">1D,</tspan> <tspan x="135" textLength="22.5" lengthAdjust="spacingAndGlyphs">FXCM</tspan></text>
<polyline points="160.2,7.9 161.8,9.4 163.4,7.9" fill="none" stroke="#444" stroke-width="1"/>
<text class="tt" x="180" y="12" textLength="39.4">O<tspan class="gv">1.14579</tspan></text>
<text class="tt" x="226" y="12" textLength="38.8">H<tspan class="gv">1.14813</tspan></text>
<text class="tt" x="271.6" y="12" textLength="37.4">L<tspan class="gv">1.14547</tspan></text>
<text class="tt" x="315.8" y="12" textLength="38.1">C<tspan class="gv">1.14708</tspan></text>
<text class="tt gv" x="361" y="12" textLength="76.6">+0.00129 (+0.11%)</text>
<circle cx="982.7" cy="8.3" r="4.2" fill="#fff" stroke="#fba668" stroke-width="1.05"/>
<text x="982.7" y="10.4" text-anchor="middle" font-size="5.8" fill="#fbae78">!</text>
<circle cx="973.3" cy="406.2" r="8" fill="#fff" stroke="#f0f2f5" stroke-width="0.9"/>
<polyline points="970.3,403.4 972.9,406.3 970.3,409.2" fill="none" stroke="#9db2c7" stroke-width="0.9"/>
<polyline points="972.8,403 976,406.3 972.8,409.6" fill="none" stroke="#5c7d9e" stroke-width="1.1"/>
</svg></body></html>
